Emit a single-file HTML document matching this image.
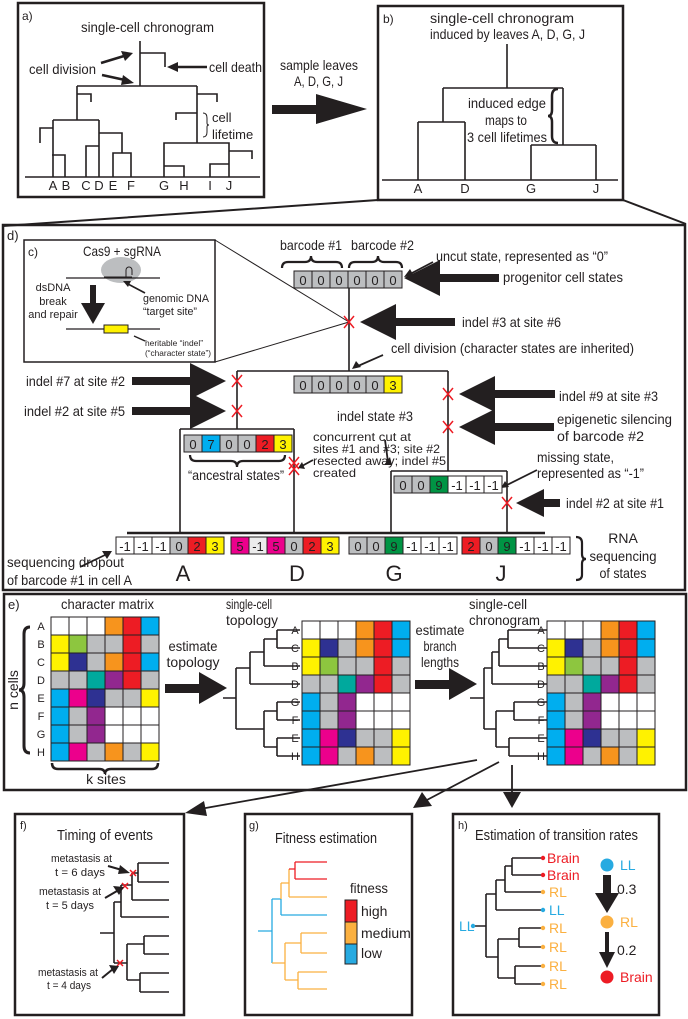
<!DOCTYPE html>
<html><head><meta charset="utf-8"><style>
html,body{margin:0;padding:0;background:#fff}
svg{display:block}
text{font-family:"Liberation Sans Narrow","Liberation Sans",sans-serif;fill:#231f20}
.W{fill:#fff}.O{fill:#f7941d}.R{fill:#ed1c24}.B{fill:#00aeef}.Y{fill:#fff200}.L{fill:#8dc63f}.G{fill:#bcbec0}.N{fill:#2e3192}.T{fill:#00a99d}.P{fill:#92278f}.K{fill:#ec008c}.E{fill:#009444}.Q{fill:#ececec}
.m rect{stroke:#231f20;stroke-width:1}
.bc rect{stroke:#231f20;stroke-width:1}
.bc text{font-size:13px;text-anchor:middle}
.ln{fill:none;stroke:#231f20;stroke-width:1.6}
.rx{stroke:#ed1c24;stroke-width:1.5;fill:none}
</style></head><body>
<svg width="688" height="1019" viewBox="0 0 688 1019" xmlns="http://www.w3.org/2000/svg">
<!-- panel a -->
<rect x="18" y="3" width="246" height="194" fill="none" stroke="#231f20" stroke-width="2.5"/>
<text x="22" y="20" font-size="12">a)</text>
<text x="81" y="32" font-size="14" textLength="133" lengthAdjust="spacingAndGlyphs">single-cell chronogram</text>
<path class="ln" d="M140 41V86M140 53H165V67M77 86H197M77 86V120M77 94H91V102M40 143V128H53M53 120H99M53 120V177M52 155H65V177M86 177V146H99M99 120V177M99 133H122V153M113 177V153H131V177M197 86V143M197 94H217V102M176 120V113H197M164 177V143H229V177M164 166H184V177M210 177V164H229M229 151H252V159M25 177H260"/>
<text x="29" y="74" font-size="14" textLength="67" lengthAdjust="spacingAndGlyphs">cell division</text>
<text x="209" y="72" font-size="14" textLength="53" lengthAdjust="spacingAndGlyphs">cell death</text>
<path d="M101 63L124 56" stroke="#231f20" stroke-width="2.5"/><polygon points="133,53 121,51 125,61" fill="#231f20"/>
<path d="M102 75L125 80" stroke="#231f20" stroke-width="2.5"/><polygon points="134,83 123,75 121,85" fill="#231f20"/>
<path d="M207 67H176" stroke="#231f20" stroke-width="2.5"/><polygon points="167,67 178,62 178,72" fill="#231f20"/>
<path d="M203 113Q207 113 207 118V123Q207 125 209 125Q207 125 207 127V132Q207 137 203 137" fill="none" stroke="#231f20" stroke-width="1"/>
<text x="212" y="122" font-size="13">cell</text>
<text x="212" y="139" font-size="13">lifetime</text>
<g font-size="13" text-anchor="middle"><text x="53" y="190">A</text><text x="66" y="190">B</text><text x="86" y="190">C</text><text x="99" y="190">D</text><text x="113" y="190">E</text><text x="131" y="190">F</text><text x="164" y="190">G</text><text x="184" y="190">H</text><text x="210" y="190">I</text><text x="229" y="190">J</text></g>
<!-- middle arrow -->
<text x="280" y="70" font-size="14" textLength="78" lengthAdjust="spacingAndGlyphs">sample leaves</text>
<text x="294" y="86" font-size="14" textLength="49" lengthAdjust="spacingAndGlyphs">A, D, G, J</text>
<rect x="272" y="105" width="46" height="9" fill="#231f20"/><polygon points="316,94 367,109 316,124" fill="#231f20"/>
<!-- panel b -->
<rect x="378" y="6" width="245" height="194" fill="none" stroke="#231f20" stroke-width="2.5"/>
<text x="383" y="23" font-size="12">b)</text>
<text x="430" y="23" font-size="14" textLength="144" lengthAdjust="spacingAndGlyphs">single-cell chronogram</text>
<text x="430" y="39" font-size="14" textLength="155" lengthAdjust="spacingAndGlyphs">induced by leaves A, D, G, J</text>
<path class="ln" d="M507 44V88M443 88H563M443 88V122M418 122H465M418 122V180M465 122V180M563 88V145M531 145H596M531 145V180M596 145V180M382 180H618"/>
<text x="468" y="108" font-size="14" textLength="78" lengthAdjust="spacingAndGlyphs">induced edge</text>
<text x="485" y="125" font-size="14" textLength="42" lengthAdjust="spacingAndGlyphs">maps to</text>
<text x="467" y="142" font-size="14" textLength="80" lengthAdjust="spacingAndGlyphs">3 cell lifetimes</text>
<path d="M558 89Q552 89 552 96V110Q552 116 548 116Q552 116 552 122V136Q552 143 558 143" fill="none" stroke="#231f20" stroke-width="2.5"/>
<g font-size="13" text-anchor="middle"><text x="418" y="193">A</text><text x="465" y="193">D</text><text x="531" y="193">G</text><text x="596" y="193">J</text></g>
<path d="M378 200L3 226M623 200L686 224" stroke="#231f20" stroke-width="2"/>
<!-- panel d -->
<rect x="3" y="225" width="682" height="365" fill="none" stroke="#231f20" stroke-width="2.5"/>
<text x="7" y="240" font-size="13">d)</text>
<!-- panel c -->
<rect x="24" y="240" width="191" height="122" fill="#fff" stroke="#231f20" stroke-width="1.5"/>
<text x="28" y="256" font-size="12">c)</text>
<text x="122" y="256" font-size="14" text-anchor="middle" textLength="78" lengthAdjust="spacingAndGlyphs">Cas9 + sgRNA</text>
<ellipse cx="121" cy="270" rx="20" ry="13" fill="#bcbec0"/>
<path d="M66 278H160" stroke="#231f20" stroke-width="1.2"/>
<path d="M104 277H132M126 277V270a3 3 0 1 1 6 0V275" fill="none" stroke="#231f20" stroke-width="1"/>
<text x="143" y="302" font-size="11" textLength="66" lengthAdjust="spacingAndGlyphs">genomic DNA</text>
<text x="143" y="315" font-size="11" textLength="54" lengthAdjust="spacingAndGlyphs">“target site”</text>
<path d="M145 293L128 284" stroke="#231f20" stroke-width="1.6"/><polygon points="123,281 131,281 128,287" fill="#231f20"/>
<g font-size="11" text-anchor="middle"><text x="53" y="291">dsDNA</text><text x="53" y="305">break</text><text x="53" y="318">and repair</text></g>
<rect x="90" y="285" width="6" height="20" fill="#231f20"/><polygon points="81,303 105,303 93,324" fill="#231f20"/>
<path d="M66 329H160" stroke="#231f20" stroke-width="1.2"/>
<rect x="104" y="325" width="24" height="8" fill="#fff200" stroke="#231f20" stroke-width="1"/>
<text x="145" y="346" font-size="8.5" textLength="58" lengthAdjust="spacingAndGlyphs">heritable “indel”</text>
<text x="145" y="356" font-size="8.5" textLength="66" lengthAdjust="spacingAndGlyphs">(“character state”)</text>
<path d="M145 341L134 336" stroke="#231f20" stroke-width="1.4"/>
<path d="M215 240L349 322M215 362L349 322" stroke="#231f20" stroke-width="1"/>
<!-- tree d -->
<path class="ln" d="M349 288V371M237 371H448M237 371V429M180 429H294M180 429V533M294 429V533M448 371V471M391 471H507M391 471V533M507 471V533"/>
<path d="M127 533H545" stroke="#231f20" stroke-width="2.5"/>
<g font-size="14">
<text x="280" y="250" textLength="62" lengthAdjust="spacingAndGlyphs">barcode #1</text>
<text x="351" y="250" textLength="63" lengthAdjust="spacingAndGlyphs">barcode #2</text>
<text x="436" y="261" textLength="172" lengthAdjust="spacingAndGlyphs">uncut state, represented as “0”</text>
<text x="503" y="282" textLength="120" lengthAdjust="spacingAndGlyphs">progenitor cell states</text>
<text x="462" y="327" textLength="99" lengthAdjust="spacingAndGlyphs">indel #3 at site #6</text>
<text x="391" y="353" textLength="243" lengthAdjust="spacingAndGlyphs">cell division (character states are inherited)</text>
<text x="26" y="386" textLength="99" lengthAdjust="spacingAndGlyphs">indel #7 at site #2</text>
<text x="24" y="416" textLength="101" lengthAdjust="spacingAndGlyphs">indel #2 at site #5</text>
<text x="337" y="421" textLength="76" lengthAdjust="spacingAndGlyphs">indel state #3</text>
<text x="559" y="401" textLength="99" lengthAdjust="spacingAndGlyphs">indel #9 at site #3</text>
<text x="557" y="424" textLength="115" lengthAdjust="spacingAndGlyphs">epigenetic silencing</text>
<text x="557" y="441" textLength="87" lengthAdjust="spacingAndGlyphs">of barcode #2</text>
<text x="537" y="462" textLength="77" lengthAdjust="spacingAndGlyphs">missing state,</text>
<text x="537" y="478" textLength="107" lengthAdjust="spacingAndGlyphs">represented as “-1”</text>
<text x="188" y="480" textLength="96" lengthAdjust="spacingAndGlyphs">“ancestral states”</text>
<text x="566" y="508" textLength="98" lengthAdjust="spacingAndGlyphs">indel #2 at site #1</text>
<text x="7" y="567" textLength="117" lengthAdjust="spacingAndGlyphs">sequencing dropout</text>
<text x="7" y="585" textLength="125" lengthAdjust="spacingAndGlyphs">of barcode #1 in cell A</text>
<text x="623" y="543" text-anchor="middle">RNA</text>
<text x="623" y="561" text-anchor="middle" textLength="67" lengthAdjust="spacingAndGlyphs">sequencing</text>
<text x="623" y="578" text-anchor="middle" textLength="47" lengthAdjust="spacingAndGlyphs">of states</text>
</g>
<g font-size="12">
<text x="313" y="441" textLength="98" lengthAdjust="spacingAndGlyphs">concurrent cut at</text>
<text x="313" y="453" textLength="127" lengthAdjust="spacingAndGlyphs">sites #1 and #3; site #2</text>
<text x="313" y="465" textLength="133" lengthAdjust="spacingAndGlyphs">resected away; indel #5</text>
<text x="313" y="477" textLength="43" lengthAdjust="spacingAndGlyphs">created</text>
</g>
<g font-size="22" text-anchor="middle"><text x="183" y="581">A</text><text x="297" y="581">D</text><text x="394" y="581">G</text><text x="501" y="581">J</text></g>
<!-- braces d -->
<path d="M282 268Q282 262 288 262H305Q311 262 311 256Q311 262 317 262H336Q342 262 342 268M349 268Q349 262 355 262H372Q378 262 378 256Q378 262 384 262H396Q402 262 402 268" fill="none" stroke="#231f20" stroke-width="2.2"/>
<path d="M190 455Q190 461 196 461H231Q237 461 237 467Q237 461 243 461H279Q285 461 285 455" fill="none" stroke="#231f20" stroke-width="2.2"/>
<path d="M576 537Q582 537 582 543V554Q582 559 586 559Q582 559 582 564V575Q582 580 576 580" fill="none" stroke="#231f20" stroke-width="2.2"/>
<!-- small arrows d -->
<g stroke="#231f20" stroke-width="1.8">
<path d="M433 262L412 273"/><path d="M383 355L358 366"/><path d="M385 440L388 462"/><path d="M313 460L302 466"/><path d="M537 470L507 485"/><path d="M80 567L105 555"/>
</g>
<g fill="#231f20">
<polygon points="404,277 410,269 414,276"/><polygon points="352,369 356,361 361,367"/><polygon points="390,457 384,465 392,465"/><polygon points="298,468 302,462 305,469"/><polygon points="501,488 505,481 509,487"/><polygon points="112,551 102,551 107,559"/>
</g>
<!-- big arrows d -->
<g fill="#231f20">
<polygon points="404,278 440,260 440,274 499,274 499,282 440,282 440,296"/>
<polygon points="360,322 396,304 396,318 455,318 455,326 396,326 396,340"/>
<polygon points="226,381 190,363 190,377 132,377 132,385 190,385 190,399"/>
<polygon points="226,411 190,393 190,407 132,407 132,415 190,415 190,429"/>
<polygon points="459,394 495,376 495,390 555,390 555,398 495,398 495,412"/>
<polygon points="459,427 495,409 495,423 554,423 554,431 495,431 495,445"/>
<polygon points="516,503 544,489 544,499 560,499 560,507 544,507 544,517"/>
</g>
<!-- red X -->
<g class="rx">
<path d="M344 316L354 328M354 316L344 328"/>
<path d="M232 375L242 387M242 375L232 387"/>
<path d="M232 405L242 417M242 405L232 417"/>
<path d="M443 388L453 400M453 388L443 400"/>
<path d="M443 421L453 433M453 421L443 433"/>
<path d="M289 457L299 469M299 457L289 469M289 463L299 475M299 463L289 475"/>
<path d="M502 497L512 509M512 497L502 509"/>
</g>
<!-- barcodes -->
<g class="bc">
<g transform="translate(294,271)"><rect class="G" x="0" width="18" height="17"/><rect class="G" x="18" width="18" height="17"/><rect class="G" x="36" width="18" height="17"/><rect class="G" x="54" width="18" height="17"/><rect class="G" x="72" width="18" height="17"/><rect class="G" x="90" width="18" height="17"/><text x="9" y="14">0</text><text x="27" y="14">0</text><text x="45" y="14">0</text><text x="63" y="14">0</text><text x="81" y="14">0</text><text x="99" y="14">0</text></g>
<g transform="translate(294,376)"><rect class="G" x="0" width="18" height="17"/><rect class="G" x="18" width="18" height="17"/><rect class="G" x="36" width="18" height="17"/><rect class="G" x="54" width="18" height="17"/><rect class="G" x="72" width="18" height="17"/><rect class="Y" x="90" width="18" height="17"/><text x="9" y="14">0</text><text x="27" y="14">0</text><text x="45" y="14">0</text><text x="63" y="14">0</text><text x="81" y="14">0</text><text x="99" y="14">3</text></g>
<g transform="translate(184,435)"><rect class="G" x="0" width="18" height="17"/><rect class="B" x="18" width="18" height="17"/><rect class="G" x="36" width="18" height="17"/><rect class="G" x="54" width="18" height="17"/><rect class="R" x="72" width="18" height="17"/><rect class="Y" x="90" width="18" height="17"/><text x="9" y="14">0</text><text x="27" y="14">7</text><text x="45" y="14">0</text><text x="63" y="14">0</text><text x="81" y="14">2</text><text x="99" y="14">3</text></g>
<g transform="translate(394,476)"><rect class="G" x="0" width="18" height="17"/><rect class="G" x="18" width="18" height="17"/><rect class="E" x="36" width="18" height="17"/><rect class="W" x="54" width="18" height="17"/><rect class="W" x="72" width="18" height="17"/><rect class="W" x="90" width="18" height="17"/><text x="9" y="14">0</text><text x="27" y="14">0</text><text x="45" y="14">9</text><text x="63" y="14">-1</text><text x="81" y="14">-1</text><text x="99" y="14">-1</text></g>
<g transform="translate(116,537)"><rect class="W" x="0" width="18" height="17"/><rect class="W" x="18" width="18" height="17"/><rect class="W" x="36" width="18" height="17"/><rect class="G" x="54" width="18" height="17"/><rect class="R" x="72" width="18" height="17"/><rect class="Y" x="90" width="18" height="17"/><text x="9" y="14">-1</text><text x="27" y="14">-1</text><text x="45" y="14">-1</text><text x="63" y="14">0</text><text x="81" y="14">2</text><text x="99" y="14">3</text></g>
<g transform="translate(231,537)"><rect class="K" x="0" width="18" height="17"/><rect class="Q" x="18" width="18" height="17"/><rect class="K" x="36" width="18" height="17"/><rect class="G" x="54" width="18" height="17"/><rect class="R" x="72" width="18" height="17"/><rect class="Y" x="90" width="18" height="17"/><text x="9" y="14">5</text><text x="27" y="14">-1</text><text x="45" y="14">5</text><text x="63" y="14">0</text><text x="81" y="14">2</text><text x="99" y="14">3</text></g>
<g transform="translate(349,537)"><rect class="G" x="0" width="18" height="17"/><rect class="G" x="18" width="18" height="17"/><rect class="E" x="36" width="18" height="17"/><rect class="W" x="54" width="18" height="17"/><rect class="W" x="72" width="18" height="17"/><rect class="W" x="90" width="18" height="17"/><text x="9" y="14">0</text><text x="27" y="14">0</text><text x="45" y="14">9</text><text x="63" y="14">-1</text><text x="81" y="14">-1</text><text x="99" y="14">-1</text></g>
<g transform="translate(462,537)"><rect class="R" x="0" width="18" height="17"/><rect class="G" x="18" width="18" height="17"/><rect class="E" x="36" width="18" height="17"/><rect class="W" x="54" width="18" height="17"/><rect class="W" x="72" width="18" height="17"/><rect class="W" x="90" width="18" height="17"/><text x="9" y="14">2</text><text x="27" y="14">0</text><text x="45" y="14">9</text><text x="63" y="14">-1</text><text x="81" y="14">-1</text><text x="99" y="14">-1</text></g>
</g>
<!-- panel e -->
<rect x="4" y="594" width="682" height="196" fill="none" stroke="#231f20" stroke-width="2.5"/>
<text x="8" y="609" font-size="13">e)</text>
<g font-size="14">
<text x="61" y="609" textLength="93" lengthAdjust="spacingAndGlyphs">character matrix</text>
<text x="193" y="651" text-anchor="middle" textLength="49" lengthAdjust="spacingAndGlyphs">estimate</text>
<text x="193" y="667" text-anchor="middle" textLength="53" lengthAdjust="spacingAndGlyphs">topology</text>
<text x="226" y="609" textLength="46" lengthAdjust="spacingAndGlyphs">single-cell</text>
<text x="226" y="625" textLength="52" lengthAdjust="spacingAndGlyphs">topology</text>
<text x="440" y="635" text-anchor="middle" textLength="49" lengthAdjust="spacingAndGlyphs">estimate</text>
<text x="440" y="651" text-anchor="middle" textLength="33" lengthAdjust="spacingAndGlyphs">branch</text>
<text x="440" y="667" text-anchor="middle" textLength="38" lengthAdjust="spacingAndGlyphs">lengths</text>
<text x="469" y="609" textLength="58" lengthAdjust="spacingAndGlyphs">single-cell</text>
<text x="469" y="625" textLength="71" lengthAdjust="spacingAndGlyphs">chronogram</text>
<text x="106" y="784" text-anchor="middle">k sites</text>
<text transform="translate(18,690) rotate(-90)" text-anchor="middle">n cells</text>
</g>
<path d="M30 627Q24 627 24 634V683Q24 690 19 690Q24 690 24 697V746Q24 753 30 753" fill="none" stroke="#231f20" stroke-width="3"/>
<path d="M52 763Q52 769 58 769H99Q105 769 105 774Q105 769 111 769H152Q158 769 158 763" fill="none" stroke="#231f20" stroke-width="2.5"/>
<g font-size="11" text-anchor="middle"><text x="41" y="630">A</text><text x="41" y="648">B</text><text x="41" y="666">C</text><text x="41" y="684">D</text><text x="41" y="702">E</text><text x="41" y="720">F</text><text x="41" y="738">G</text><text x="41" y="756">H</text></g>
<g font-size="11" text-anchor="middle"><text x="295" y="634">A</text><text x="295" y="652">C</text><text x="295" y="670">B</text><text x="295" y="688">D</text><text x="295" y="706">G</text><text x="295" y="724">F</text><text x="295" y="742">E</text><text x="295" y="760">H</text></g>
<g font-size="11" text-anchor="middle"><text x="541" y="634">A</text><text x="541" y="652">C</text><text x="541" y="670">B</text><text x="541" y="688">D</text><text x="541" y="706">G</text><text x="541" y="724">F</text><text x="541" y="742">E</text><text x="541" y="760">H</text></g>
<!-- matrix1 -->
<g class="m" transform="translate(51,617)">
<rect class="W" x="0" y="0" width="18" height="18"/><rect class="W" x="18" y="0" width="18" height="18"/><rect class="W" x="36" y="0" width="18" height="18"/><rect class="O" x="54" y="0" width="18" height="18"/><rect class="R" x="72" y="0" width="18" height="18"/><rect class="B" x="90" y="0" width="18" height="18"/>
<rect class="Y" x="0" y="18" width="18" height="18"/><rect class="L" x="18" y="18" width="18" height="18"/><rect class="G" x="36" y="18" width="18" height="18"/><rect class="G" x="54" y="18" width="18" height="18"/><rect class="R" x="72" y="18" width="18" height="18"/><rect class="G" x="90" y="18" width="18" height="18"/>
<rect class="Y" x="0" y="36" width="18" height="18"/><rect class="N" x="18" y="36" width="18" height="18"/><rect class="G" x="36" y="36" width="18" height="18"/><rect class="O" x="54" y="36" width="18" height="18"/><rect class="R" x="72" y="36" width="18" height="18"/><rect class="B" x="90" y="36" width="18" height="18"/>
<rect class="G" x="0" y="54" width="18" height="18"/><rect class="G" x="18" y="54" width="18" height="18"/><rect class="T" x="36" y="54" width="18" height="18"/><rect class="P" x="54" y="54" width="18" height="18"/><rect class="R" x="72" y="54" width="18" height="18"/><rect class="G" x="90" y="54" width="18" height="18"/>
<rect class="B" x="0" y="72" width="18" height="18"/><rect class="K" x="18" y="72" width="18" height="18"/><rect class="N" x="36" y="72" width="18" height="18"/><rect class="G" x="54" y="72" width="18" height="18"/><rect class="G" x="72" y="72" width="18" height="18"/><rect class="Y" x="90" y="72" width="18" height="18"/>
<rect class="B" x="0" y="90" width="18" height="18"/><rect class="G" x="18" y="90" width="18" height="18"/><rect class="P" x="36" y="90" width="18" height="18"/><rect class="W" x="54" y="90" width="18" height="18"/><rect class="W" x="72" y="90" width="18" height="18"/><rect class="W" x="90" y="90" width="18" height="18"/>
<rect class="B" x="0" y="108" width="18" height="18"/><rect class="G" x="18" y="108" width="18" height="18"/><rect class="P" x="36" y="108" width="18" height="18"/><rect class="W" x="54" y="108" width="18" height="18"/><rect class="W" x="72" y="108" width="18" height="18"/><rect class="W" x="90" y="108" width="18" height="18"/>
<rect class="B" x="0" y="126" width="18" height="18"/><rect class="K" x="18" y="126" width="18" height="18"/><rect class="G" x="36" y="126" width="18" height="18"/><rect class="O" x="54" y="126" width="18" height="18"/><rect class="G" x="72" y="126" width="18" height="18"/><rect class="Y" x="90" y="126" width="18" height="18"/>
</g>
<!-- matrix2 & 3 -->
<g id="m2" class="m" transform="translate(302,621)">
<rect class="W" x="0" y="0" width="18" height="18"/><rect class="W" x="18" y="0" width="18" height="18"/><rect class="W" x="36" y="0" width="18" height="18"/><rect class="O" x="54" y="0" width="18" height="18"/><rect class="R" x="72" y="0" width="18" height="18"/><rect class="B" x="90" y="0" width="18" height="18"/>
<rect class="Y" x="0" y="18" width="18" height="18"/><rect class="N" x="18" y="18" width="18" height="18"/><rect class="G" x="36" y="18" width="18" height="18"/><rect class="O" x="54" y="18" width="18" height="18"/><rect class="R" x="72" y="18" width="18" height="18"/><rect class="B" x="90" y="18" width="18" height="18"/>
<rect class="Y" x="0" y="36" width="18" height="18"/><rect class="L" x="18" y="36" width="18" height="18"/><rect class="G" x="36" y="36" width="18" height="18"/><rect class="G" x="54" y="36" width="18" height="18"/><rect class="R" x="72" y="36" width="18" height="18"/><rect class="G" x="90" y="36" width="18" height="18"/>
<rect class="G" x="0" y="54" width="18" height="18"/><rect class="G" x="18" y="54" width="18" height="18"/><rect class="T" x="36" y="54" width="18" height="18"/><rect class="P" x="54" y="54" width="18" height="18"/><rect class="R" x="72" y="54" width="18" height="18"/><rect class="G" x="90" y="54" width="18" height="18"/>
<rect class="B" x="0" y="72" width="18" height="18"/><rect class="G" x="18" y="72" width="18" height="18"/><rect class="P" x="36" y="72" width="18" height="18"/><rect class="W" x="54" y="72" width="18" height="18"/><rect class="W" x="72" y="72" width="18" height="18"/><rect class="W" x="90" y="72" width="18" height="18"/>
<rect class="B" x="0" y="90" width="18" height="18"/><rect class="G" x="18" y="90" width="18" height="18"/><rect class="P" x="36" y="90" width="18" height="18"/><rect class="W" x="54" y="90" width="18" height="18"/><rect class="W" x="72" y="90" width="18" height="18"/><rect class="W" x="90" y="90" width="18" height="18"/>
<rect class="B" x="0" y="108" width="18" height="18"/><rect class="K" x="18" y="108" width="18" height="18"/><rect class="N" x="36" y="108" width="18" height="18"/><rect class="G" x="54" y="108" width="18" height="18"/><rect class="G" x="72" y="108" width="18" height="18"/><rect class="Y" x="90" y="108" width="18" height="18"/>
<rect class="B" x="0" y="126" width="18" height="18"/><rect class="K" x="18" y="126" width="18" height="18"/><rect class="G" x="36" y="126" width="18" height="18"/><rect class="O" x="54" y="126" width="18" height="18"/><rect class="G" x="72" y="126" width="18" height="18"/><rect class="Y" x="90" y="126" width="18" height="18"/>
</g>
<use href="#m2" x="245" y="0"/>
<!-- trees e -->
<path class="ln" stroke-width="1.3" d="M223 698H236M236 668V729M236 668H250M250 652V684M250 684H300M250 652H264M264 639V666M264 666H300M264 639H277M277 630V648M277 630H300M277 648H300M236 729H264M264 711V747M264 711H277M277 702V720M277 702H300M277 720H300M264 747H277M277 738V756M277 738H300M277 756H300"/>
<path class="ln" stroke-width="1.3" d="M470 698H484M484 668V729M484 668H492M492 652V684M492 684H547M492 652H499M499 639V666M499 666H547M499 639H508M508 630V648M508 630H547M508 648H547M484 729H496M496 711V747M496 711H514M514 702V720M514 702H547M514 720H547M496 747H509M509 738V756M509 738H547M509 756H547"/>
<g fill="#231f20">
<rect x="165" y="684" width="36" height="9"/><polygon points="199,672 227,688 199,704"/>
<rect x="415" y="680" width="36" height="9"/><polygon points="449,668 477,684 449,700"/>
</g>
<!-- connector arrows -->
<g stroke="#231f20" stroke-width="1.8">
<path d="M477 760L200 809"/><path d="M499 762L425 801"/><path d="M512 765V795"/>
</g>
<g fill="#231f20">
<polygon points="185,813 204,801 207,816"/>
<polygon points="413,808 422,792 432,806"/>
<polygon points="512,808 503,792 521,792"/>
</g>
<!-- panel f -->
<rect x="15" y="814" width="169" height="201" fill="none" stroke="#231f20" stroke-width="2.5"/>
<text x="20" y="829" font-size="11">f)</text>
<text x="57" y="840" font-size="15" textLength="96" lengthAdjust="spacingAndGlyphs">Timing of events</text>
<path class="ln" stroke-width="1.3" d="M100 933H114M114 902V963M114 902H121M121 885V917M121 917H169M121 885H132M132 873V900M132 900H169M132 873H138M138 863V882M138 863H169M138 882H169M114 963H127M127 944V980M127 944H144M144 936V954M144 936H169M144 954H169M127 980H140M140 973V992M140 973H169M140 992H169"/>
<g class="rx" stroke-width="1.2"><path d="M130 870L136 876M136 870L130 876"/><path d="M122 883L128 889M128 883L122 889"/><path d="M117 960L123 966M123 960L117 966"/></g>
<g font-size="11">
<text x="51" y="862" textLength="61" lengthAdjust="spacingAndGlyphs">metastasis at</text>
<text x="55" y="876" textLength="50" lengthAdjust="spacingAndGlyphs">t = 6 days</text>
<text x="39" y="895" textLength="62" lengthAdjust="spacingAndGlyphs">metastasis at</text>
<text x="46" y="909" textLength="48" lengthAdjust="spacingAndGlyphs">t = 5 days</text>
<text x="38" y="976" textLength="60" lengthAdjust="spacingAndGlyphs">metastasis at</text>
<text x="47" y="989" textLength="44" lengthAdjust="spacingAndGlyphs">t = 4 days</text>
</g>
<g stroke="#231f20" stroke-width="2"><path d="M108 866L122 870"/><path d="M105 898L117 891"/><path d="M102 978L113 969"/></g>
<g fill="#231f20"><polygon points="130,873 120,865 118,874"/><polygon points="124,887 113,886 119,895"/><polygon points="119,966 109,965 114,974"/></g>
<!-- panel g -->
<rect x="245" y="814" width="167" height="201" fill="none" stroke="#231f20" stroke-width="2.5"/>
<text x="249" y="829" font-size="11">g)</text>
<text x="275" y="843" font-size="15" textLength="102" lengthAdjust="spacingAndGlyphs">Fitness estimation</text>
<g fill="none" stroke-width="1.3">
<path stroke="#27aae1" d="M258 931H272M272 899V963M272 899H281M281 899V915M281 915H327"/>
<path stroke="#fbb040" d="M281 899V883M281 883H289M289 869V897M289 897H327M272 963H285M285 943V980M285 943H301M301 933V953M301 933H327M301 953H327M285 980H298M298 972V989M298 972H327M298 989H327"/>
<path stroke="#ed1c24" d="M289 869H295M295 862V879M295 862H327M295 879H327"/>
</g>
<text x="350" y="893" font-size="14" textLength="38" lengthAdjust="spacingAndGlyphs">fitness</text>
<rect x="345" y="900" width="12" height="22" fill="#ed1c24" stroke="#231f20"/>
<rect x="345" y="922" width="12" height="22" fill="#fbb040" stroke="#231f20"/>
<rect x="345" y="944" width="12" height="20" fill="#27aae1" stroke="#231f20"/>
<g font-size="14"><text x="361" y="916">high</text><text x="361" y="938">medium</text><text x="361" y="958">low</text></g>
<!-- panel h -->
<rect x="453" y="814" width="206" height="201" fill="none" stroke="#231f20" stroke-width="2.5"/>
<text x="458" y="829" font-size="11">h)</text>
<text x="475" y="840" font-size="15" textLength="163" lengthAdjust="spacingAndGlyphs">Estimation of transition rates</text>
<path class="ln" stroke-width="1.3" d="M473 926H486M486 894V957M486 894H496M496 880V910M496 910H543M496 880H505M505 866V892M505 892H543M505 866H512M512 858V875M512 858H543M512 875H543M486 957H498M498 939V978M498 939H519M519 928V947M519 928H543M519 947H543M498 978H515M515 966V984M515 966H543M515 984H543"/>
<g fill="#ed1c24"><circle cx="543" cy="858" r="2.2"/><circle cx="543" cy="875" r="2.2"/></g>
<g fill="#fbb040"><circle cx="543" cy="892" r="2.2"/><circle cx="543" cy="928" r="2.2"/><circle cx="543" cy="947" r="2.2"/><circle cx="543" cy="966" r="2.2"/><circle cx="543" cy="984" r="2.2"/></g>
<g fill="#27aae1"><circle cx="543" cy="910" r="2.2"/><circle cx="473" cy="926" r="2.2"/></g>
<g font-size="14">
<text x="547" y="863" style="fill:#ed1c24">Brain</text><text x="547" y="880" style="fill:#ed1c24">Brain</text>
<text x="549" y="897" style="fill:#fbb040">RL</text><text x="549" y="915" style="fill:#27aae1">LL</text>
<text x="549" y="933" style="fill:#fbb040">RL</text><text x="549" y="952" style="fill:#fbb040">RL</text>
<text x="549" y="971" style="fill:#fbb040">RL</text><text x="549" y="989" style="fill:#fbb040">RL</text>
<text x="459" y="931" style="fill:#27aae1">LL</text>
<text x="620" y="870" style="fill:#27aae1">LL</text>
<text x="620" y="927" style="fill:#fbb040">RL</text>
<text x="620" y="982" style="fill:#ed1c24">Brain</text>
<text x="617" y="894">0.3</text><text x="617" y="955">0.2</text>
</g>
<circle cx="607" cy="865" r="6.5" fill="#27aae1"/>
<circle cx="607" cy="922" r="6.5" fill="#fbb040"/>
<circle cx="607" cy="977" r="6.5" fill="#ed1c24"/>
<rect x="603" y="875" width="8" height="20" fill="#231f20"/><polygon points="595,893 619,893 607,913" fill="#231f20"/>
<rect x="605" y="932" width="4" height="22" fill="#231f20"/><polygon points="599,952 615,952 607,968" fill="#231f20"/>
</svg>
</body></html>
